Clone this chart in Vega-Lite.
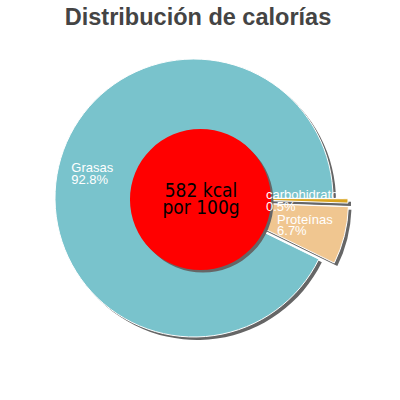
{
  "$schema": "https://vega.github.io/schema/vega-lite/v6.json",
  "description": "Distribución de calorías por 100g",
  "autosize": "none",
  "width": 388,
  "height": 336,
  "padding": {"top": 30, "left": 0, "right": 12, "bottom": 34},
  "background": "white",
  "title": {
    "text": "Distribución de calorías",
    "font": "Liberation Sans",
    "fontSize": 23.5,
    "fontWeight": "bold",
    "color": "#444444",
    "anchor": "middle",
    "dx": 4,
    "dy": 23,
    "offset": 5,
    "baseline": "alphabetic"
  },
  "config": {"view": {"stroke": null}},
  "resolve": {"scale": {"theta": "independent"}},
  "layer": [
    {
      "data": {
        "name": "macros",
        "values": [
          {"nombre": "Grasas", "pct": 92.8, "orden": 1, "etiqueta": ["Grasas", "92.8%"]},
          {"nombre": "carbohidratos", "pct": 0.5, "orden": 2, "etiqueta": ["carbohidratos", "0.5%"]},
          {"nombre": "Proteínas", "pct": 6.7, "orden": 3, "etiqueta": ["Proteínas", "6.7%"]}
        ]
      },
      "encoding": {
        "theta": {"field": "pct", "type": "quantitative", "stack": true, "scale": {"domain": [0, 100], "range": [2.0263, 8.3095]}},
        "order": {"field": "orden", "type": "quantitative"}
      },
      "layer": [
        {
          "mark": {"type": "arc", "radius": 139, "fill": "#666666", "xOffset": 3, "yOffset": 3},
          "encoding": {"opacity": {"condition": {"test": "datum.nombre === 'Grasas'", "value": 1}, "value": 0}}
        },
        {
          "mark": {"type": "arc", "radius": 139, "fill": "#666666", "xOffset": 18, "yOffset": 3.3},
          "encoding": {"opacity": {"condition": {"test": "datum.nombre === 'carbohidratos'", "value": 1}, "value": 0}}
        },
        {
          "mark": {"type": "arc", "radius": 139, "fill": "#666666", "xOffset": 18.5, "yOffset": 6.9},
          "encoding": {"opacity": {"condition": {"test": "datum.nombre === 'Proteínas'", "value": 1}, "value": 0}}
        },
        {
          "mark": {"type": "arc", "radius": 139, "fill": "#79c3cc", "stroke": "#ffffff", "strokeWidth": 1},
          "encoding": {"opacity": {"condition": {"test": "datum.nombre === 'Grasas'", "value": 1}, "value": 0}}
        },
        {
          "mark": {"type": "arc", "radius": 139, "fill": "#daa520", "stroke": "#ffffff", "strokeWidth": 1, "xOffset": 15, "yOffset": 0.3},
          "encoding": {"opacity": {"condition": {"test": "datum.nombre === 'carbohidratos'", "value": 1}, "value": 0}}
        },
        {
          "mark": {"type": "arc", "radius": 139, "fill": "#f0c690", "stroke": "#ffffff", "strokeWidth": 1, "xOffset": 15.5, "yOffset": 3.9},
          "encoding": {"opacity": {"condition": {"test": "datum.nombre === 'Proteínas'", "value": 1}, "value": 0}}
        }
      ]
    },
    {
      "data": {"values": [{"kcal": 582}]},
      "encoding": {"theta": {"field": "kcal", "type": "quantitative"}},
      "layer": [
        {"mark": {"type": "arc", "radius": 70.5, "fill": "#666666", "xOffset": 9, "yOffset": 4}},
        {"mark": {"type": "arc", "radius": 70.5, "fill": "#ff0000", "xOffset": 6.5, "yOffset": 1.5}}
      ]
    },
    {
      "data": {"values": [{"texto": ["582 kcal", "por 100g"]}]},
      "mark": {"type": "text", "font": "DejaVu Sans Condensed, Liberation Sans", "fontSize": 19, "lineHeight": 17, "align": "center", "baseline": "alphabetic", "color": "#000000", "dx": 7, "dy": -1},
      "encoding": {"text": {"field": "texto", "type": "nominal"}}
    },
    {
      "data": {"name": "macros"},
      "encoding": {
        "theta": {"field": "pct", "type": "quantitative", "stack": true, "scale": {"domain": [0, 100], "range": [2.0263, 8.3095]}},
        "order": {"field": "orden", "type": "quantitative"}
      },
      "layer": [
        {
          "mark": {"type": "text", "radius": 126, "font": "Liberation Sans", "fontSize": 13, "lineHeight": 11.5, "align": "left", "baseline": "alphabetic", "color": "#ffffff", "dy": 3},
          "encoding": {"text": {"condition": {"test": "datum.nombre === 'Grasas'", "field": "etiqueta", "type": "nominal"}, "value": ""}}
        },
        {
          "mark": {"type": "text", "radius": 72, "font": "Liberation Sans", "fontSize": 13, "lineHeight": 11.5, "align": "left", "baseline": "alphabetic", "color": "#ffffff"},
          "encoding": {"text": {"condition": {"test": "datum.nombre === 'carbohidratos'", "field": "etiqueta", "type": "nominal"}, "value": ""}}
        },
        {
          "mark": {"type": "text", "radius": 85.6, "font": "Liberation Sans", "fontSize": 13, "lineHeight": 11.5, "align": "left", "baseline": "alphabetic", "color": "#ffffff", "dy": 5},
          "encoding": {"text": {"condition": {"test": "datum.nombre === 'Proteínas'", "field": "etiqueta", "type": "nominal"}, "value": ""}}
        }
      ]
    }
  ]
}
